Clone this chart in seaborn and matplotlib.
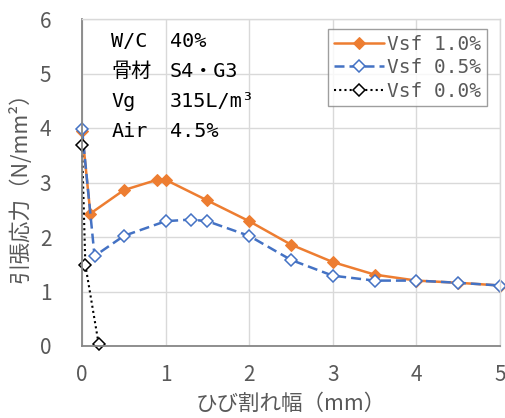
import matplotlib
matplotlib.use("Agg")
import matplotlib.pyplot as plt
import seaborn as sns
import pandas as pd

# Crack width (mm) and tensile stress (N/mm²) for each fibre volume
x_vsf10 = [0.0, 0.10, 0.5, 0.9, 1.0, 1.5, 2.0, 2.5, 3.0, 3.5, 4.0, 4.5, 5.0]
y_vsf10 = [3.95, 2.43, 2.86, 3.05, 3.05, 2.67, 2.29, 1.86, 1.54, 1.31, 1.20, 1.16, 1.11]

x_vsf05 = [0.0, 0.15, 0.5, 1.0, 1.3, 1.5, 2.0, 2.5, 3.0, 3.5, 4.0, 4.5, 5.0]
y_vsf05 = [3.98, 1.65, 2.02, 2.29, 2.32, 2.29, 2.02, 1.58, 1.29, 1.20, 1.20, 1.16, 1.11]

x_vsf00 = [0.0, 0.04, 0.2]
y_vsf00 = [3.69, 1.49, 0.03]

series_names = ["Vsf 1.0%", "Vsf 0.5%", "Vsf 0.0%"]

info_keys = ["W/C", "骨材", "Vg", "Air"]
info_vals = ["40%", "S4・G3", "315L/m³", "4.5%"]

x_ticks = [0, 1, 2, 3, 4, 5]
y_ticks = [0, 1, 2, 3, 4, 5, 6]

sns.set_theme(style="white")
plt.rcParams["font.family"] = ["Noto Sans CJK JP", "DejaVu Sans"]

fig = plt.figure(figsize=(5.05, 4.18), dpi=100)
ax = fig.add_axes([82 / 505, 1 - 346 / 418, 418 / 505, 327 / 418])

gray = "#595959"
styles = [
    dict(color="#ED7D31", linestyle="-", marker="D", markerfacecolor="#ED7D31",
         markeredgecolor="#ED7D31", markersize=6, linewidth=1.8),
    dict(color="#4472C4", linestyle=(0, (4, 2)), marker="D", markerfacecolor="white",
         markeredgecolor="#4472C4", markersize=6.5, linewidth=1.8, markeredgewidth=1.1),
    dict(color="black", linestyle=(0, (1, 1.5)), marker="D", markerfacecolor="white",
         markeredgecolor="black", markersize=6.5, linewidth=1.5, markeredgewidth=1.1),
]
data = [(x_vsf10, y_vsf10), (x_vsf05, y_vsf05), (x_vsf00, y_vsf00)]

for (xs, ys), name, st in zip(data, series_names, styles):
    df = pd.DataFrame({"crack": xs, "stress": ys})
    sns.lineplot(data=df, x="crack", y="stress", ax=ax, label=name,
                 sort=False, estimator=None, clip_on=False, **st)

ax.set_xlim(0, 5)
ax.set_ylim(0, 6)
ax.set_xticks(x_ticks)
ax.set_yticks(y_ticks)
ax.grid(True, color="#D9D9D9", linewidth=1.0)
ax.set_axisbelow(True)

for side in ["left", "bottom"]:
    ax.spines[side].set_color("#868686")
    ax.spines[side].set_linewidth(1.3)
for side in ["top", "right"]:
    ax.spines[side].set_color("#D9D9D9")
    ax.spines[side].set_linewidth(1.0)

ax.tick_params(axis="both", direction="in", length=5, width=1.0, color="#868686",
               labelsize=15, labelcolor=gray)
ax.tick_params(axis="x", pad=13)
ax.tick_params(axis="y", pad=22)

ax.set_xlabel("ひび割れ幅（mm）", fontsize=15.5, color=gray, labelpad=5)
ax.set_ylabel("引張応力（N/mm²）", fontsize=15.5, color=gray, labelpad=6)

mono = ["DejaVu Sans Mono", "Noto Sans CJK JP"]

leg = ax.legend(loc="upper right", bbox_to_anchor=(0.969, 0.969), borderaxespad=0,
                prop={"family": mono, "size": 14}, frameon=True, fancybox=False,
                handlelength=2.6, handletextpad=0.15, labelspacing=0.22, borderpad=0.3)
leg.get_frame().set_edgecolor("#868686")
leg.get_frame().set_linewidth(1.0)
for t in leg.get_texts():
    t.set_color(gray)

rows_y = [5.49, 4.93, 4.38, 3.83]
for key, val, yy in zip(info_keys, info_vals, rows_y):
    ax.text(0.35, yy, key, fontsize=14.5, family=mono, color="black", va="baseline")
    ax.text(1.05, yy, val, fontsize=14.5, family=mono, color="black", va="baseline")

fig.savefig("out.png", dpi=100)
